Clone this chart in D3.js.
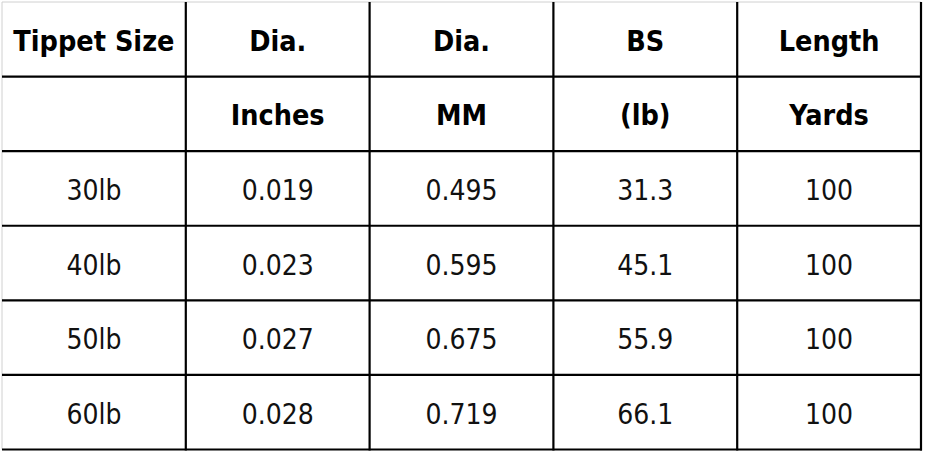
<!DOCTYPE html>
<html>
<head>
<meta charset="utf-8">
<title>Tippet Table</title>
<style>
body {
    margin: 0px;
    overflow: hidden;
    background: #fff;
}
text {
    font-family: "DejaVu Sans Condensed", "DejaVu Sans", sans-serif;
    font-stretch: condensed;
    fill: #111;
}
</style>
<script src="https://cdnjs.cloudflare.com/ajax/libs/d3/7.8.5/d3.min.js"></script>
<script>

var headerTop = ["Tippet Size", "Dia.", "Dia.", "BS", "Length"];
var headerSub = ["", "Inches", "MM", "(lb)", "Yards"];
var tippetSize = ["30lb", "40lb", "50lb", "60lb"];
var diaInches = ["0.019", "0.023", "0.027", "0.028"];
var diaMM = ["0.495", "0.595", "0.675", "0.719"];
var breakingStrength = ["31.3", "45.1", "55.9", "66.1"];
var lengthYards = ["100", "100", "100", "100"];

window.addEventListener("load", function(){

    var width = 925,
        height = 454;

    var svg = d3.select("#layout-area").append("svg")
            .attr("width", width)
            .attr("height", height);

    // rows: two header rows + data rows
    var rows = [headerTop, headerSub];
    tippetSize.forEach(function (s, i) {
        rows.push([s, diaInches[i], diaMM[i], breakingStrength[i], lengthYards[i]]);
    });

    var x = d3.scaleBand()
        .domain(d3.range(headerTop.length))
        .range([2, 921]);
    var y = d3.scaleBand()
        .domain(d3.range(rows.length))
        .range([2, 449.5]);

    // cell text
    rows.forEach(function (row, r) {
        svg.selectAll("text.r" + r)
            .data(row)
            .enter().append("text")
            .attr("class", "r" + r)
            .attr("x", function (d, c) { return x(c) + x.bandwidth() / 2; })
            .attr("y", y(r) + y.bandwidth() / 2 + 2)
            .attr("text-anchor", "middle")
            .attr("dominant-baseline", "central")
            .style("font-size", r < 2 ? "28.5px" : "28px")
            .style("font-weight", r < 2 ? "bold" : "normal")
            .style("fill", r < 2 ? "#000" : null)
            .text(function (d) { return d; });
    });

    // light outer edges
    svg.append("line")
        .attr("x1", x.range()[0]).attr("x2", x.range()[0])
        .attr("y1", y.range()[0]).attr("y2", y.range()[1])
        .attr("stroke", "#d0d0d0").attr("stroke-width", 1);
    svg.append("line")
        .attr("x1", x.range()[0]).attr("x2", x.range()[1])
        .attr("y1", y.range()[0]).attr("y2", y.range()[0])
        .attr("stroke", "#d0d0d0").attr("stroke-width", 1);

    // grid lines
    var vx = d3.range(1, headerTop.length).map(function (c) { return x(c); }).concat([x.range()[1]]);
    var hy = d3.range(1, rows.length).map(function (r) { return y(r); }).concat([y.range()[1]]);

    svg.selectAll("line.v")
        .data(vx)
        .enter().append("line")
        .attr("class", "v")
        .attr("x1", function (d) { return d; })
        .attr("x2", function (d) { return d; })
        .attr("y1", y.range()[0])
        .attr("y2", y.range()[1] + 1)
        .attr("stroke", "#000")
        .attr("stroke-width", 2.2);

    svg.selectAll("line.h")
        .data(hy)
        .enter().append("line")
        .attr("class", "h")
        .attr("x1", x.range()[0])
        .attr("x2", x.range()[1] + 1)
        .attr("y1", function (d) { return d; })
        .attr("y2", function (d) { return d; })
        .attr("stroke", "#000")
        .attr("stroke-width", 2.2);

},false);

</script>
</head>
<body>
<div id="layout-area"></div>
</body>
</html>
